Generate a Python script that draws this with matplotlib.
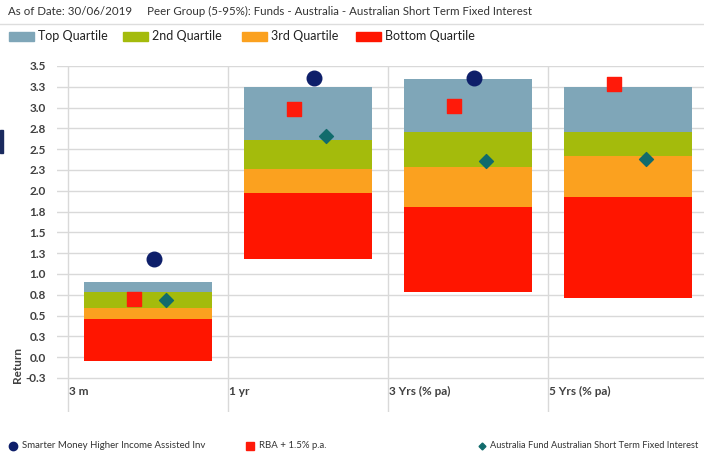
"""Peer group quartile chart: Australian Short Term Fixed Interest."""

import matplotlib

matplotlib.use("Agg")
import numpy as np
from matplotlib import pyplot as plt
from matplotlib.patches import Rectangle

plt.rcParams["font.family"] = ["Lato", "DejaVu Sans"]

# data
periods = ["3 m", "1 yr", "3 Yrs (% pa)", "5 Yrs (% pa)"]
p05 = [-0.04, 1.18, 0.78, 0.71]
p25 = [0.46, 1.97, 1.81, 1.93]
p50 = [0.59, 2.26, 2.29, 2.42]
p75 = [0.78, 2.61, 2.71, 2.71]
p95 = [0.90, 3.25, 3.34, 3.25]
fund = [1.18, 3.35, 3.36, np.nan]
rba = [0.70, 2.98, 3.02, 3.28]
peer_fund = [0.69, 2.66, 2.36, 2.38]

quartile_names = ["Top Quartile", "2nd Quartile", "3rd Quartile", "Bottom Quartile"]
quartile_colors = ["#7fa6b8", "#a4bb0c", "#fba11f", "#ff1500"]
fund_color = "#0e1f6a"
rba_color = "#ff1a0a"
peer_color = "#116b6c"

fig = plt.figure(figsize=(7.04, 4.54), dpi=100)
ax = fig.add_axes([57 / 704, 1 - 412 / 454, 1 - 57 / 704, (412 - 66) / 454])

x = np.arange(len(periods))
width = 0.8
lows = [p05, p25, p50, p75]
highs = [p25, p50, p75, p95]
# draw bottom quartile first, top quartile last
for lo, hi, color in zip(lows, highs, quartile_colors[::-1]):
    lo = np.array(lo)
    hi = np.array(hi)
    ax.bar(x, hi - lo, bottom=lo, width=width, color=color, zorder=2)

ax.scatter(x + 0.035, fund, s=110, marker="o", color=fund_color, zorder=4)
ax.scatter(x - 0.085, rba, s=110, marker="s", color=rba_color, zorder=4)
ax.scatter(x + 0.11, peer_fund, s=50, marker="D", color=peer_color, zorder=4)

ax.set_xlim(-0.569, 3.475)
ax.set_ylim(-0.659, 3.5)
yticks = np.arange(-0.25, 3.51, 0.25)
ax.set_yticks(yticks)
# Excel-style rounding of the .25/.75 ticks (half away from zero)
labels = [f"{np.floor(abs(v) * 10 + 0.5) / 10 * np.sign(v) + 0.0:.1f}" for v in yticks]
ax.set_yticklabels(labels)
ax.set_xticks([])
ax.tick_params(axis="y", length=0, pad=8, labelsize=8.5, labelcolor="#404040")
for label in ax.get_yticklabels():
    label.set_fontweight("bold")
for spine in ax.spines.values():
    spine.set_visible(False)
for yv in yticks:
    ax.axhline(yv, color="#d9d9d9", linewidth=1, zorder=1)
for xv in x - 0.5:
    ax.axvline(xv, color="#d9d9d9", linewidth=1, zorder=1)

for i, name in enumerate(periods):
    ax.text(i - 0.5 + 0.005, -0.415, name, ha="left", va="center",
            fontsize=8.5, color="#404040", fontweight="bold")

fig.text(18 / 704, 1 - 365 / 454, "Return", rotation=90, ha="center", va="center",
         fontsize=8.5, color="#404040", fontweight="bold")

# header
fig.text(8 / 704, 1 - 11 / 454,
         "As of Date: 30/06/2019     Peer Group (5-95%): Funds - Australia - "
         "Australian Short Term Fixed Interest",
         ha="left", va="center", fontsize=8.3, color="#333333")
fig.add_artist(plt.Line2D([0, 1], [1 - 24 / 454] * 2, color="#dddddd", linewidth=1))

# top legend
legend_x = [9, 123, 242, 356]
for lx, name, color in zip(legend_x, quartile_names, quartile_colors):
    fig.add_artist(Rectangle((lx / 704, 1 - 41 / 454), 25 / 704, 9 / 454,
                             color=color, transform=fig.transFigure))
    fig.text((lx + 29) / 704, 1 - 36.5 / 454, name, ha="left", va="center",
             fontsize=9, color="#222222")

# bottom legend
legend_y = 1 - 446 / 454
fig.add_artist(plt.Line2D([13 / 704], [legend_y], marker="o", markersize=6,
                          color=fund_color, linestyle="none"))
fig.text(22 / 704, legend_y, "Smarter Money Higher Income Assisted Inv",
         ha="left", va="center", fontsize=6.9, color="#333333")
fig.add_artist(plt.Line2D([250 / 704], [legend_y], marker="s", markersize=5.5,
                          color=rba_color, linestyle="none"))
fig.text(259 / 704, legend_y, "RBA + 1.5% p.a.",
         ha="left", va="center", fontsize=6.9, color="#333333")
fig.add_artist(plt.Line2D([482 / 704], [legend_y], marker="D", markersize=3.5,
                          color=peer_color, linestyle="none"))
fig.text(490 / 704, legend_y, "Australia Fund Australian Short Term Fixed Interest",
         ha="left", va="center", fontsize=6.7, color="#333333")

# small dark mark at the left edge of the screenshot
fig.add_artist(Rectangle((0, 1 - 153 / 454), 3 / 704, 23 / 454,
                         color="#1a2a5e", transform=fig.transFigure))

fig.savefig("out.png", dpi=100)
